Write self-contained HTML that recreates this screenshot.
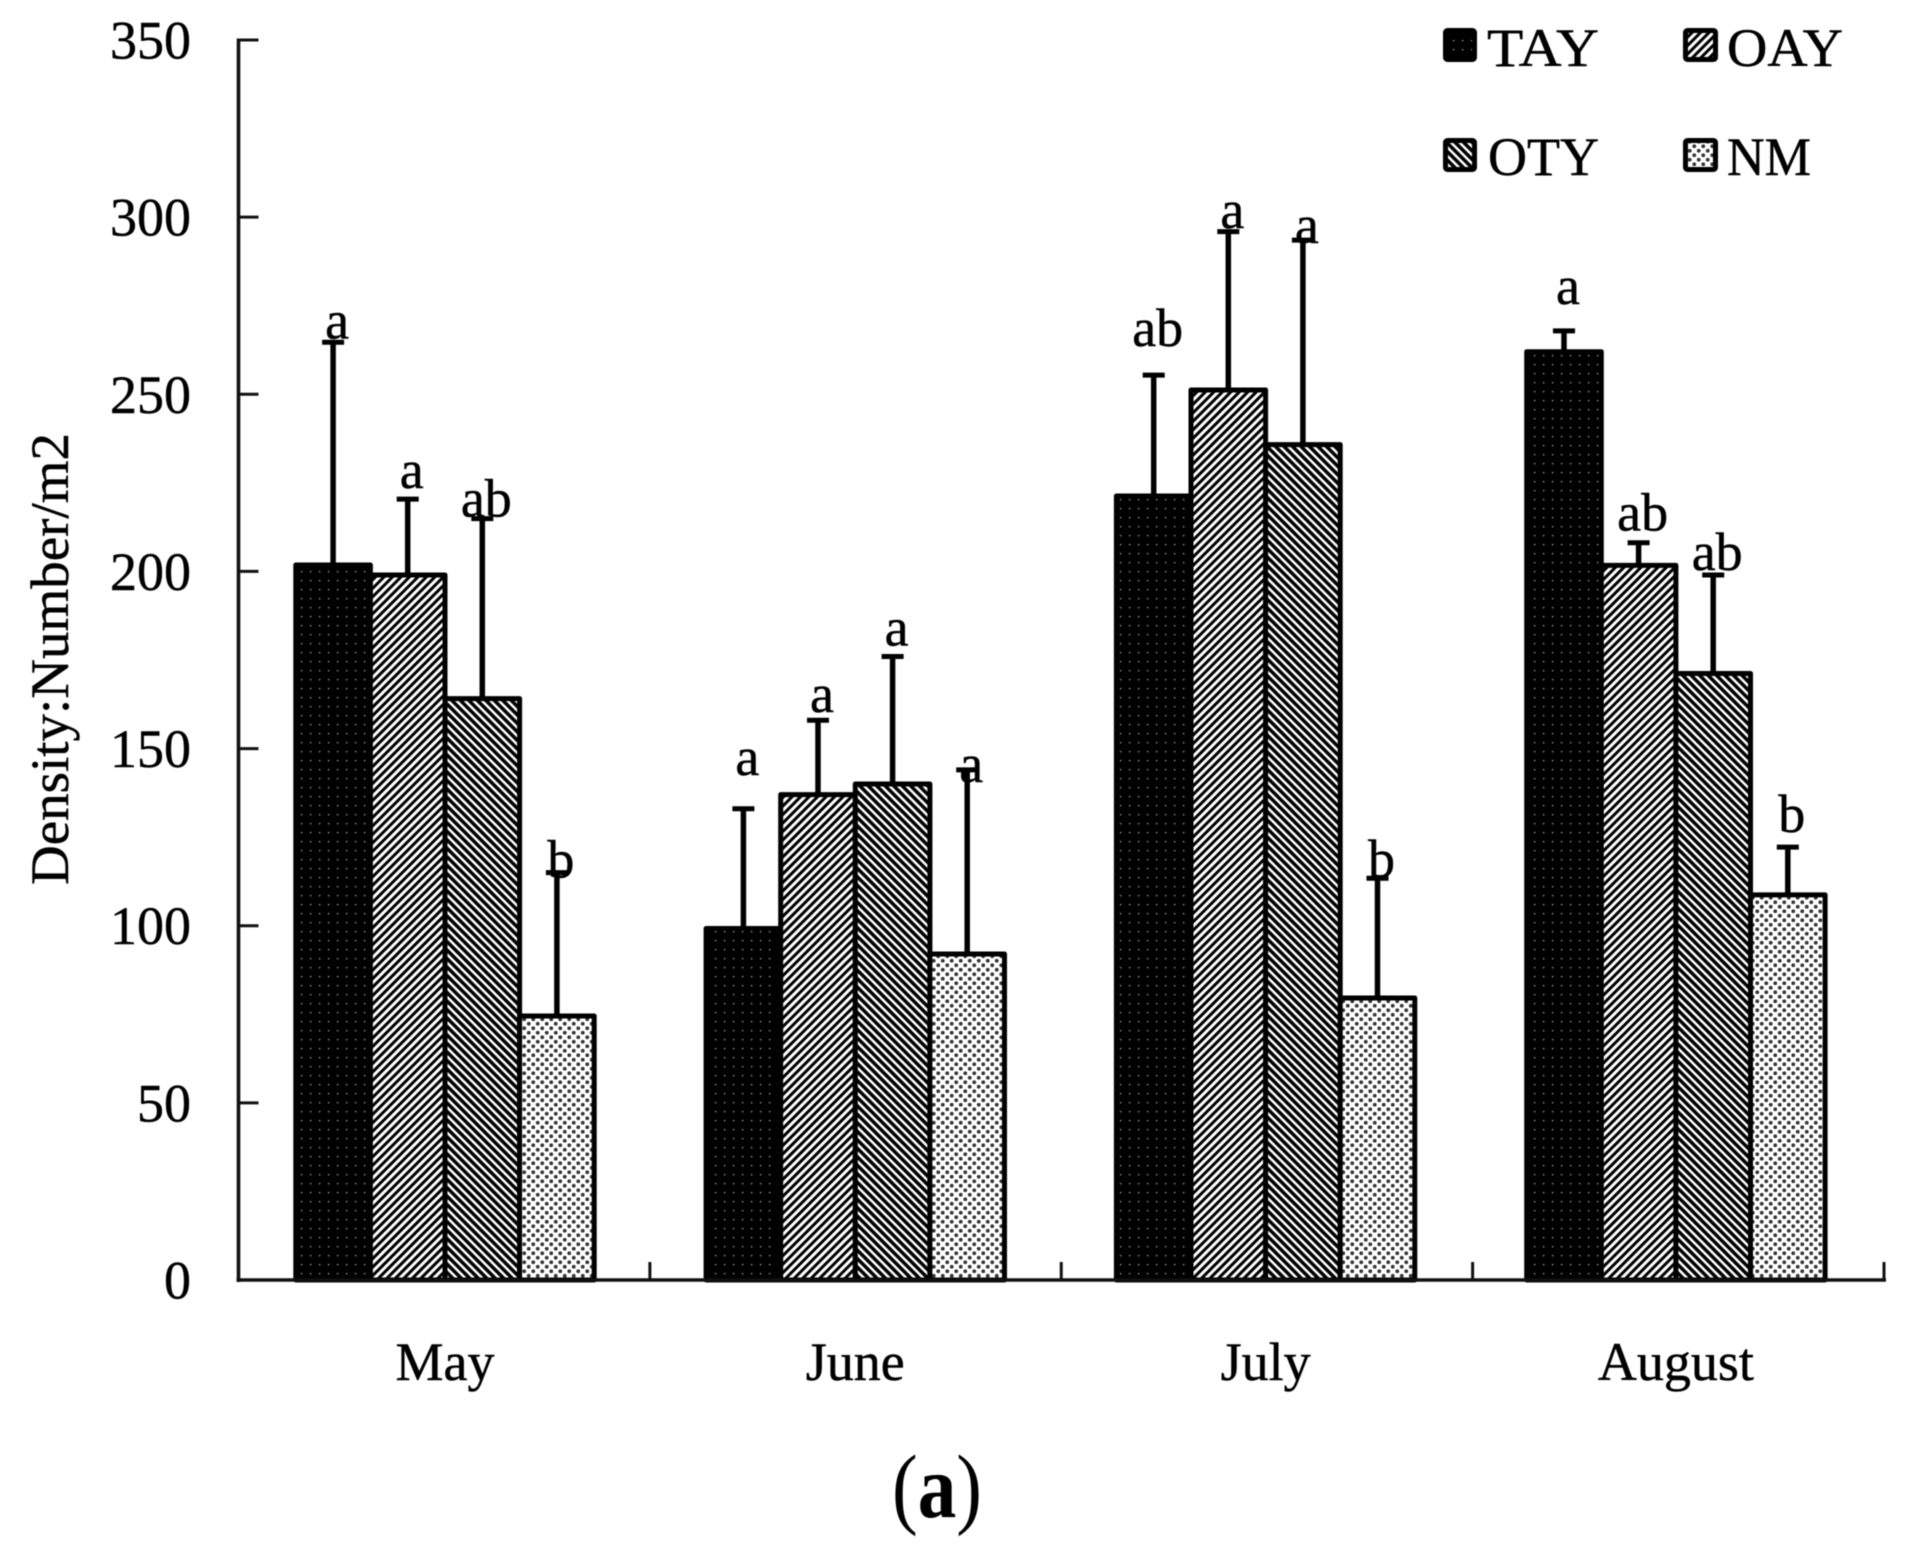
<!DOCTYPE html>
<html>
<head>
<meta charset="utf-8">
<title>Density chart</title>
<style>
html,body{margin:0;padding:0;background:#fff;}
svg{display:block;filter:blur(0.5px);}
text{font-family:"Liberation Serif",serif;fill:#000;stroke:#000;stroke-width:0.45px;}
</style>
</head>
<body>
<svg id="chart" xmlns="http://www.w3.org/2000/svg" width="1915" height="1555" viewBox="0 0 1915 1555">
  <defs>
    <pattern id="p-tay" patternUnits="userSpaceOnUse" width="9" height="9">
      <rect width="9" height="9" fill="#000"/>
      <rect x="4" y="4" width="1.3" height="1.3" fill="#aaa"/>
    </pattern>
    <pattern id="p-oay" patternUnits="userSpaceOnUse" width="6" height="6" patternTransform="rotate(-45)">
      <rect width="6" height="6" fill="#fff"/>
      <rect width="6" height="3" fill="#000"/>
    </pattern>
    <pattern id="p-oty" patternUnits="userSpaceOnUse" width="6" height="6" patternTransform="rotate(45)">
      <rect width="6" height="6" fill="#fff"/>
      <rect width="6" height="3.5" fill="#000"/>
    </pattern>
    <pattern id="p-nm" patternUnits="userSpaceOnUse" width="9" height="9">
      <rect width="9" height="9" fill="#fff"/>
      <circle cx="2.25" cy="2.25" r="1.9" fill="#333"/>
      <circle cx="6.75" cy="6.75" r="1.9" fill="#333"/>
    </pattern>
  </defs>
  <g id="bars-layer"></g>
  <g id="axes-layer"></g>
  <g id="letters-layer"></g>
  <text transform="translate(68,659) rotate(-90)" text-anchor="middle" font-size="54" textLength="452" lengthAdjust="spacingAndGlyphs">Density:Number/m2</text>
  <text x="937" y="1517" text-anchor="middle" font-size="90" textLength="90" lengthAdjust="spacingAndGlyphs" style="stroke-width:0"><tspan>(</tspan><tspan font-weight="bold">a</tspan><tspan>)</tspan></text>
  <g id="legend">
    <g>
      <rect x="1445.5" y="30.5" width="29" height="29" rx="2" fill="url(#p-tay)" stroke="#000" stroke-width="5"/>
      <text x="1487" y="66" font-size="54" textLength="112" lengthAdjust="spacingAndGlyphs">TAY</text>
    </g>
    <g>
      <rect x="1685.5" y="30.5" width="30" height="29" rx="2" fill="url(#p-oay)" stroke="#000" stroke-width="5"/>
      <text x="1727" y="66" font-size="54" textLength="116" lengthAdjust="spacingAndGlyphs">OAY</text>
    </g>
    <g>
      <rect x="1445.5" y="140.5" width="29" height="29" rx="2" fill="url(#p-oty)" stroke="#000" stroke-width="5"/>
      <text x="1488" y="175" font-size="54" textLength="111" lengthAdjust="spacingAndGlyphs">OTY</text>
    </g>
    <g>
      <rect x="1685.5" y="140.5" width="30" height="29" rx="2" fill="url(#p-nm)" stroke="#000" stroke-width="5"/>
      <text x="1727" y="175" font-size="54" textLength="84" lengthAdjust="spacingAndGlyphs">NM</text>
    </g>
  </g>
</svg>
<script>
var months = ['May', 'June', 'July', 'August'];
var seriesNames = ['TAY', 'OAY', 'OTY', 'NM'];
var yTickLabels = [0, 50, 100, 150, 200, 250, 300, 350];

var tayValues = [201.8, 99.2, 221.3, 262];
var oayValues = [199, 137, 251.2, 201.7];
var otyValues = [164.1, 140, 235.8, 171.2];
var nmValues = [74.5, 92, 79.6, 108.7];

var tayErrorTops = [264.7, 133, 255.4, 267.9];
var oayErrorTops = [220.4, 158, 295.9, 208.1];
var otyErrorTops = [214.9, 176, 293.5, 199];
var nmErrorTops = [115, 144, 113.4, 122.2];

var tayLetters = ['a', 'a', 'ab', 'a'];
var oayLetters = ['a', 'a', 'a', 'ab'];
var otyLetters = ['ab', 'a', 'a', 'ab'];
var nmLetters = ['b', 'a', 'b', 'b'];

var tayLetterLift = [1.1, 9.6, 8.2, 7.6];
var oayLetterLift = [3.2, 2.3, 1.1, 3.4];
var otyLetterLift = [0.6, 3.1, -0.8, 1.4];
var nmLetterLift = [-1.4, -3.4, 0.3, 4.2];

var allValues = [tayValues, oayValues, otyValues, nmValues];
var allErrorTops = [tayErrorTops, oayErrorTops, otyErrorTops, nmErrorTops];
var allLetters = [tayLetters, oayLetters, otyLetters, nmLetters];
var allLifts = [tayLetterLift, oayLetterLift, otyLetterLift, nmLetterLift];
var patternIds = ['p-tay', 'p-oay', 'p-oty', 'p-nm'];

var NS = 'http://www.w3.org/2000/svg';
var AXIS_X = 238.5, AXIS_END = 1884, AXIS_Y = 1280, AXIS_TOP = 40, Y_MAX = 350;
var BAR_W = 74.6;

function yScale(v) {
  return AXIS_Y - v / Y_MAX * (AXIS_Y - AXIS_TOP);
}
function groupCenter(i) {
  return 445 + 410.3 * i;
}
function barLeft(i, s) {
  return groupCenter(i) - 2 * BAR_W + s * BAR_W;
}
function categoryTick(i) {
  return AXIS_X + (AXIS_END - AXIS_X) / months.length * i;
}
function make(tag, parent, attrs) {
  var el = document.createElementNS(NS, tag);
  for (var k in attrs) el.setAttribute(k, attrs[k]);
  parent.appendChild(el);
  return el;
}

var barsLayer = document.getElementById('bars-layer');
var axesLayer = document.getElementById('axes-layer');
var lettersLayer = document.getElementById('letters-layer');

months.forEach(function (month, i) {
  seriesNames.forEach(function (name, s) {
    var cx = barLeft(i, s) + BAR_W / 2;
    var stem = make('line', barsLayer, {x1: cx, x2: cx, y1: yScale(allValues[s][i]), y2: yScale(allErrorTops[s][i]), stroke: '#000', 'stroke-width': 5.5});
    
    
    var cap = make('line', barsLayer, {x1: cx - 11, x2: cx + 11, y1: yScale(allErrorTops[s][i]), y2: yScale(allErrorTops[s][i]), stroke: '#000', 'stroke-width': 5});
    
    
  });
});

months.forEach(function (month, i) {
  seriesNames.forEach(function (name, s) {
    var top = yScale(allValues[s][i]);
    var bar = make('rect', barsLayer, {x: barLeft(i, s), y: top, width: BAR_W, height: AXIS_Y - top, fill: 'url(#' + patternIds[s] + ')', stroke: '#000', 'stroke-width': 5, 'stroke-linejoin': 'round'});
    
    
  });
});

months.forEach(function (month, i) {
  seriesNames.forEach(function (name, s) {
    var letter = make('text', lettersLayer, {x: barLeft(i, s) + BAR_W / 2 + 4, y: yScale(allErrorTops[s][i] + allLifts[s][i]), 'text-anchor': 'middle', 'font-size': 54});
    letter.textContent = allLetters[s][i];
    
    
  });
});

var yAxisLine = make('line', axesLayer, {x1: AXIS_X, x2: AXIS_X, y1: AXIS_TOP - 1.5, y2: AXIS_Y + 2, stroke: '#111', 'stroke-width': 3.6});


var xAxisLine = make('line', axesLayer, {x1: AXIS_X - 2, x2: AXIS_END + 2, y1: AXIS_Y, y2: AXIS_Y, stroke: '#111', 'stroke-width': 3.6});



yTickLabels.forEach(function (t) {
  var y = yScale(t);
  var tick = make('line', axesLayer, {x1: AXIS_X, x2: AXIS_X + 20, y1: y, y2: y, stroke: '#111', 'stroke-width': 3});
  
  
  var label = make('text', axesLayer, {x: 191, y: y + 18.5, 'text-anchor': 'end', 'font-size': 54});
  label.textContent = t;
  
  
});

for (var t = 1; t <= months.length; t++) {
  var tx = categoryTick(t);
  var xTick = make('line', axesLayer, {x1: tx, x2: tx, y1: AXIS_Y - 18, y2: AXIS_Y, stroke: '#111', 'stroke-width': 3});
  
  
}

months.forEach(function (month, i) {
  var label = make('text', axesLayer, {x: groupCenter(i), y: 1380, 'text-anchor': 'middle', 'font-size': 54});
  label.textContent = month;
  
  
});
</script>
</body>
</html>
